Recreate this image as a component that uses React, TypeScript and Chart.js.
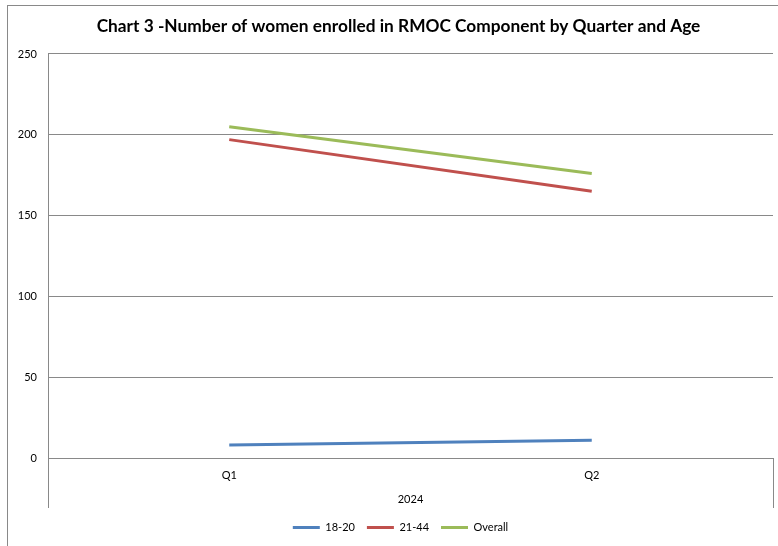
import React, { useEffect, useRef } from "react";
import { Chart, registerables } from "chart.js";

Chart.register(...registerables);

const categories = ["Q1", "Q2"];
const groupLabel = "2024";
const series1820 = [8, 11];
const series2144 = [197, 165];
const seriesOverall = [205, 176];
const yTicks = [0, 50, 100, 150, 200, 250];
const titleText = "Chart 3 -Number of women enrolled in RMOC Component by Quarter and Age";

const FONT = "Lato, 'Open Sans', sans-serif";

const framePlugin = {
  id: "frame",
  afterLayout(chart: any) {
    if (chart.legend) {
      chart.legend.left += 10;
      chart.legend.right += 10;
    }
    if (chart.titleBlock) {
      chart.titleBlock.left += 8;
      chart.titleBlock.right += 8;
    }
  },
  beforeDraw(chart: any) {
    const { ctx } = chart;
    ctx.save();
    ctx.fillStyle = "#ffffff";
    ctx.fillRect(0, 0, chart.width, chart.height);
    ctx.strokeStyle = "#898989";
    ctx.lineWidth = 1;
    ctx.strokeRect(7.5, 5.5, chart.width + 20, chart.height + 20);
    ctx.restore();
  },
  afterDraw(chart: any) {
    const { ctx, chartArea } = chart;
    ctx.save();
    ctx.strokeStyle = "#898989";
    ctx.lineWidth = 1;
    const l = Math.round(chartArea.left) + 0.5;
    const r = Math.round(chartArea.right) + 0.5;
    const b = Math.round(chartArea.bottom);
    ctx.beginPath();
    ctx.moveTo(l, b);
    ctx.lineTo(l, b + 50);
    ctx.moveTo(r, b);
    ctx.lineTo(r, b + 50);
    ctx.stroke();
    ctx.restore();
  },
};

export default function App() {
  const ref = useRef<HTMLCanvasElement | null>(null);
  useEffect(() => {
    document.body.style.margin = "0";
    if (!ref.current) return;
    const chart = new Chart(ref.current, {
      type: "line",
      data: {
        labels: categories,
        datasets: [
          { label: "18-20", data: series1820, borderColor: "#4F81BD", backgroundColor: "#4F81BD", borderWidth: 3, pointRadius: 0, tension: 0 },
          { label: "21-44", data: series2144, borderColor: "#C0504D", backgroundColor: "#C0504D", borderWidth: 3, pointRadius: 0, tension: 0 },
          { label: "Overall", data: seriesOverall, borderColor: "#9BBB59", backgroundColor: "#9BBB59", borderWidth: 3, pointRadius: 0, tension: 0 },
        ],
      },
      options: {
        animation: false,
        responsive: false,
        maintainAspectRatio: false,
        layout: { padding: { left: 8, right: 5, top: 0, bottom: 3 } },
        plugins: {
          title: {
            display: true,
            text: titleText,
            color: "#000000",
            font: { family: FONT, size: 17.3, weight: "bold" },
            padding: { top: 16, bottom: 17.2 },
          },
          legend: {
            position: "bottom",
            labels: {
              color: "#000000",
              font: { family: FONT, size: 11 },
              boxWidth: 27,
              boxHeight: 3,
              padding: 12,
              generateLabels(chart: any) {
                const items = Chart.defaults.plugins.legend.labels.generateLabels(chart);
                return items.map((it: any) => ({ ...it, lineWidth: 0 }));
              },
            },
          },
          tooltip: { enabled: false },
        },
        scales: {
          x: {
            offset: true,
            grid: { display: false, drawTicks: false },
            border: { display: false },
            ticks: { color: "#000000", font: { family: FONT, size: 11 }, padding: 11 },
            title: { display: true, text: groupLabel, color: "#000000", font: { family: FONT, size: 11 }, padding: { top: 16, bottom: 4 } },
            afterFit(scale: any) { scale.height = 52; },
          },
          y: {
            min: 0,
            max: 250,
            afterBuildTicks(scale: any) { scale.ticks = yTicks.map((v) => ({ value: v })); },
            grid: { color: "#898989", lineWidth: 1, drawTicks: false },
            border: { display: true, color: "#898989", width: 1 },
            ticks: { color: "#000000", font: { family: FONT, size: 11 }, padding: 11 },
            afterFit(scale: any) { scale.width = 40; },
          },
        },
      },
      plugins: [framePlugin],
    } as any);
    return () => chart.destroy();
  }, []);
  return <canvas ref={ref} width={778} height={546} style={{ display: "block", width: 778, height: 546 }} />;
}
